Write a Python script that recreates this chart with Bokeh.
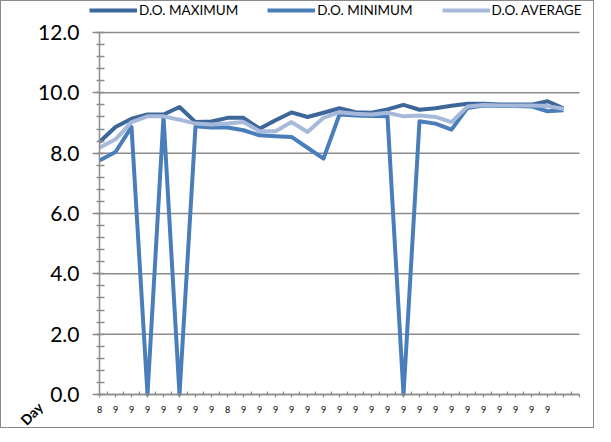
from math import pi
from bokeh.plotting import figure
from bokeh.models import (Range1d, FixedTicker, Legend, LegendItem, Label,
                          PrintfTickFormatter)
from bokeh.embed import file_html
from bokeh.resources import INLINE

# ---- data ----
day_labels = ["8", "9", "9", "9", "9", "9", "9", "9", "8", "9",
              "9", "9", "9", "9", "9", "9", "9", "9", "9", "9",
              "9", "9", "9", "9", "9", "9", "9", "9", "9"]
do_max = [8.37, 8.87, 9.14, 9.28, 9.28, 9.53, 9.03, 9.05, 9.17, 9.17,
          8.81, 9.09, 9.35, 9.20, 9.34, 9.49, 9.36, 9.34, 9.45, 9.60,
          9.44, 9.49, 9.57, 9.64, 9.64, 9.61, 9.61, 9.61, 9.72, 9.49]
do_min = [7.76, 8.04, 8.87, 0.0, 9.20, 0.0, 8.89, 8.85, 8.85, 8.76,
          8.59, 8.56, 8.54, 8.18, 7.82, 9.28, 9.25, 9.23, 9.22, 0.0,
          9.06, 8.98, 8.78, 9.50, 9.58, 9.56, 9.56, 9.55, 9.39, 9.42]
do_avg = [8.18, 8.46, 9.03, 9.22, 9.22, 9.11, 8.98, 8.95, 8.98, 9.03,
          8.73, 8.73, 9.03, 8.70, 9.17, 9.36, 9.31, 9.28, 9.34, 9.22,
          9.25, 9.20, 9.03, 9.55, 9.60, 9.58, 9.58, 9.58, 9.56, 9.47]
series_names = ["D.O. MAXIMUM", "D.O. MINIMUM", "D.O. AVERAGE"]
x_title = "Day"
y_ticks = [0, 2, 4, 6, 8, 10, 12]

days = list(range(len(do_max)))
n_slots = len(do_max) + 1          # axis spans one slot past the last day
x_end = n_slots - 1
y_min, y_max = y_ticks[0], y_ticks[-1]

FONT = "Lato"
GRID = "#8c8c8c"
colors = ["#3D6699", "#4A7EBB", "#A6B9DA"]

# canvas 594x428 inside a 1px border; plot area 480x362 px placed inside it
W, H = 594, 428
px_x = 480 / x_end
px_y = 362 / (y_max - y_min)
left_pad, top_pad = 98, 31          # canvas px from canvas edge to axis origin/top
x_range = Range1d(-left_pad / px_x, (W - left_pad) / px_x)
y_range = Range1d(y_max - (H - top_pad) / px_y, y_max + top_pad / px_y)

p = figure(width=W, height=H, output_backend="svg", toolbar_location=None,
           x_range=x_range, y_range=y_range, min_border=0)
p.outline_line_color = None
p.background_fill_color = "white"
p.border_fill_color = "white"
p.styles = {"border": "1px solid #8a8a8a"}
p.xgrid.visible = False
p.ygrid.visible = False

# horizontal gridlines at the y ticks, spanning the category axis
p.segment(x0=[0] * len(y_ticks), x1=[x_end] * len(y_ticks),
          y0=y_ticks, y1=y_ticks, line_color=GRID, line_width=1.5)

renderers = []
for vals, c in zip([do_max, do_min, do_avg], colors):
    r = p.line(days, vals, line_color=c, line_width=4, line_join="round")
    renderers.append(r)

# y axis
yax = p.yaxis[0]
yax.fixed_location = 0
yax.bounds = (y_min, y_max)
yax.ticker = FixedTicker(ticks=y_ticks,
                         minor_ticks=[round(i * 0.4, 1) for i in range(31)])
yax.formatter = PrintfTickFormatter(format="%.1f")
yax.major_label_text_font = FONT
yax.major_label_text_font_size = "21px"
yax.major_label_text_color = "#000000"
yax.axis_line_color = GRID
yax.axis_line_width = 1.5
yax.major_tick_line_color = GRID
yax.major_tick_line_width = 1.5
yax.major_tick_out = 7
yax.major_tick_in = 0
yax.minor_tick_line_color = GRID
yax.minor_tick_line_width = 1.5
yax.minor_tick_out = 3
yax.minor_tick_in = 5
yax.major_label_standoff = 13

# x axis
xax = p.xaxis[0]
xax.fixed_location = 0
xax.bounds = (0, x_end)
xax.ticker = FixedTicker(ticks=list(range(n_slots)),
                         minor_ticks=[i + 0.5 for i in range(n_slots - 1)])
overrides = {i: (day_labels[i] if i < len(day_labels) else "") for i in range(n_slots)}
xax.major_label_overrides = overrides
xax.major_label_text_font = FONT
xax.major_label_text_font_size = "9px"
xax.major_label_text_color = "#000000"
xax.axis_line_color = GRID
xax.axis_line_width = 1.5
xax.major_tick_line_color = GRID
xax.major_tick_line_width = 1.2
xax.major_tick_out = 3
xax.major_tick_in = 0
xax.minor_tick_line_color = GRID
xax.minor_tick_line_width = 1.2
xax.minor_tick_out = 0
xax.minor_tick_in = 3
xax.major_label_standoff = 8

# rotated "Day" title at the bottom-left (offset in px converted to data units)
p.add_layout(Label(x=-68 / px_x, y=-19 / px_y,
                   text=x_title, angle=pi / 4,
                   text_align="center", text_baseline="middle",
                   text_font=FONT, text_font_size="14px",
                   text_font_style="bold", text_color="#000000"))

legend = Legend(items=[LegendItem(label=n, renderers=[r])
                       for n, r in zip(series_names, renderers)],
                orientation="horizontal", location=(88, 411))
legend.border_line_color = None
legend.background_fill_alpha = 0
legend.padding = 0
legend.margin = 0
legend.spacing = 29
legend.glyph_width = 48
legend.glyph_height = 16
legend.label_height = 16
legend.label_standoff = 2
legend.label_text_font = FONT
legend.label_text_font_size = "13.5px"
legend.label_text_color = "#000000"
p.add_layout(legend)

open("out.html", "w").write(file_html(p, INLINE))
